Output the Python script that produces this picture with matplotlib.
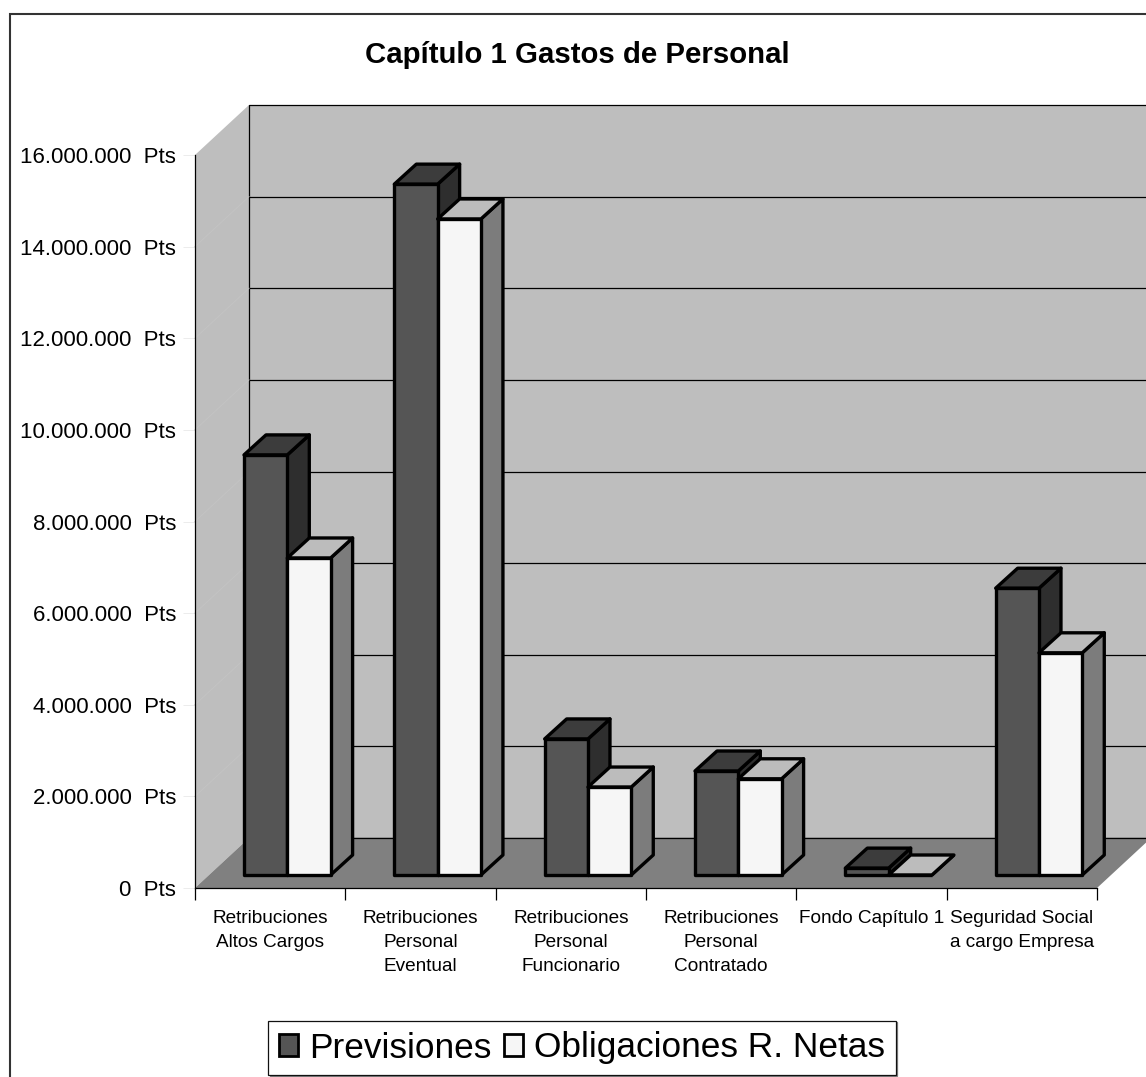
import numpy as np
import matplotlib
matplotlib.use("Agg")
import matplotlib.pyplot as plt
from matplotlib.patches import Patch, Rectangle

plt.rcParams['font.family'] = ['Liberation Sans', 'DejaVu Sans']

categories = ["Retribuciones\nAltos Cargos", "Retribuciones\nPersonal\nEventual",
              "Retribuciones\nPersonal\nFuncionario", "Retribuciones\nPersonal\nContratado",
              "Fondo Capítulo 1", "Seguridad Social\na cargo Empresa"]
previsiones = [9170000, 15080000, 2970000, 2270000, 150000, 6260000]
obligaciones = [6920000, 14320000, 1920000, 2100000, 0, 4850000]
value_ticks = [0, 2000000, 4000000, 6000000, 8000000, 10000000, 12000000, 14000000, 16000000]

W, H = 1146, 1077
fig = plt.figure(figsize=(W / 100, H / 100), dpi=100, facecolor='white')

# outer chart frame, runs off the right and bottom edges
fig.add_artist(Rectangle((10 / W, -0.01), W / W, (H - 14) / H + 0.01, transform=fig.transFigure,
                         fill=False, edgecolor='#333333', linewidth=1.5))

ax = fig.add_axes([195 / W, 1 - 888 / H, 902 / W, 733 / H])
ax.set_xlim(0, 6)
ax.set_ylim(0, 16000000)
ax.patch.set_visible(False)

# oblique projection: depth direction expressed in data units
px_x = 6 / 902
px_y = 16000000 / 733
DX = 54 * px_x
DY = 50 * px_y

WALL = '#bebebe'
FLOOR = '#808080'


def face(xs, ys, color, z, ec='none', lw=0):
    ax.fill(xs, ys, facecolor=color, edgecolor=ec, linewidth=lw, zorder=z,
            clip_on=False, joinstyle='round')


# side wall, back wall and floor
face([0, DX, DX, 0], [16000000, 16000000 + DY, DY, 0], WALL, 1)
face([DX, 6 + DX, 6 + DX, DX], [DY, DY, 16000000 + DY, 16000000 + DY], WALL, 1, 'black', 0.9)
face([0, DX, 6 + DX, 6], [0, DY, DY, 0], FLOOR, 1.5)

for v in value_ticks[1:-1]:
    ax.plot([DX, 6 + DX], [v + DY, v + DY], color='black', lw=0.9, zorder=2, clip_on=False)
    ax.plot([0, DX], [v, v + DY], color='#c3c3c3', lw=0.7, zorder=2, clip_on=False)
ax.plot([DX, 6 + DX], [DY, DY], color='black', lw=0.9, zorder=2, clip_on=False)

# bar geometry
bar_left = 35 * px_x
bar_w = 43.3 * px_x
base_x = 14 * px_x
base_y = 13 * px_y
top_x = 22 * px_x
top_y = 20 * px_y
EDGE = 2.4


def bar3d(x0, v, front, top, side, z):
    x0 = x0 + base_x
    x1 = x0 + bar_w
    y0 = base_y
    y1 = base_y + v
    face([x1, x1 + top_x, x1 + top_x, x1], [y0, y0 + top_y, y1 + top_y, y1], side, z, 'black', EDGE)
    face([x0, x1, x1 + top_x, x0 + top_x], [y1, y1, y1 + top_y, y1 + top_y], top, z, 'black', EDGE)
    face([x0, x1, x1, x0], [y0, y0, y1, y1], front, z, 'black', EDGE)


for i in range(len(categories)):
    x = i + bar_left
    bar3d(x, previsiones[i], '#555555', '#3c3c3c', '#2e2e2e', 3 + i)
    bar3d(x + bar_w, obligaciones[i], '#f6f6f6', '#bcbcbc', '#7c7c7c', 3.5 + i)

# axes
for s in ['top', 'right']:
    ax.spines[s].set_visible(False)
for s in ['left', 'bottom']:
    ax.spines[s].set_linewidth(0.9)
    ax.spines[s].set_zorder(2.5)

ax.set_yticks(value_ticks)
ax.set_yticklabels([f"{v:,d}".replace(",", ".") + "  Pts" for v in value_ticks], fontsize=16)
ax.tick_params(axis='y', length=8.6, width=0.7, color='#ececec', pad=5)

ax.set_xticks(np.arange(7))
ax.set_xticklabels([])
ax.set_xticks(np.arange(6) + 0.5, labels=categories, minor=True, fontsize=13.7, linespacing=1.55)
ax.tick_params(axis='x', which='major', length=8.6, width=0.9)
ax.tick_params(axis='x', which='minor', length=0, pad=15.5)

fig.text(577 / W, 1 - 55 / H, "Capítulo 1 Gastos de Personal", ha='center', va='center',
         fontsize=21.2, fontweight='bold')

handles = [Patch(facecolor='#555555', edgecolor='black', linewidth=2, label='Previsiones'),
           Patch(facecolor='#f6f6f6', edgecolor='black', linewidth=2, label='Obligaciones R. Netas')]
leg = fig.legend(handles=handles, ncol=2, loc='center', bbox_to_anchor=(582 / W, 1 - 1048 / H),
                 fontsize=25.4, frameon=True, fancybox=False, edgecolor='#111111', framealpha=1,
                 handlelength=0.55, handleheight=0.55, handletextpad=0.3, columnspacing=0.36,
                 borderpad=0.3, borderaxespad=0,
                 shadow={'ox': 0.8, 'oy': -0.8, 'alpha': 1, 'facecolor': '#808080', 'edgecolor': '#808080'})
leg.get_frame().set_linewidth(0.9)

fig.savefig('out.png', dpi=100)
